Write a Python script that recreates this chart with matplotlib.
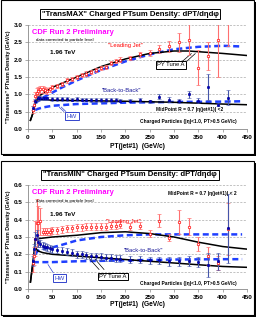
import numpy as np
import matplotlib
matplotlib.use("Agg")
import matplotlib.pyplot as plt
from matplotlib.patches import Rectangle

plt.rcParams['font.family'] = ['Liberation Sans', 'DejaVu Sans']

# ---------------- TransMAX data ----------------
max_lj_x = [10, 12, 15, 18, 20, 25, 30, 35, 40, 45, 50, 60, 70, 80, 90, 100, 110, 120, 130, 140,
            150, 160, 170, 180, 190, 210, 230, 250, 270, 290, 310, 330, 350, 370, 390, 410]
max_lj_y = [0.55, 0.7, 0.95, 1.05, 1.1, 1.15, 1.15, 1.12, 1.1, 1.15, 1.2, 1.25, 1.3, 1.4, 1.45, 1.5, 1.55, 1.6, 1.65, 1.7,
            1.75, 1.8, 1.9, 1.95, 2.0, 2.05, 2.15, 2.2, 2.3, 2.38, 2.5, 2.58, 1.77, 2.1, 2.57, 3.2]
max_lj_e = [0.1, 0.1, 0.12, 0.12, 0.12, 0.1, 0.1, 0.08, 0.08, 0.07, 0.06, 0.06, 0.06, 0.06, 0.06, 0.06, 0.06, 0.06, 0.06, 0.06,
            0.06, 0.06, 0.06, 0.06, 0.07, 0.07, 0.08, 0.08, 0.12, 0.16, 0.28, 0.45, 0.5, 0.4, 1.07, 0.8]

max_bb_x = [10, 15, 20, 25, 30, 35, 40, 50, 60, 70, 80, 90, 100, 110, 120, 130, 140, 150, 160, 170,
            180, 190, 210, 230, 250, 270, 290, 310, 330, 350, 370, 390, 410]
max_bb_y = [0.6, 0.8, 0.88, 0.9, 0.88, 0.88, 0.88, 0.87, 0.87, 0.87, 0.86, 0.85, 0.86, 0.85, 0.85, 0.84, 0.84, 0.84, 0.83, 0.83,
            0.83, 0.82, 0.82, 0.83, 0.8, 0.93, 0.85, 0.8, 1.0, 0.82, 1.22, 0.7, 0.9]
max_bb_e = [0.06, 0.06, 0.06, 0.05, 0.05, 0.05, 0.05, 0.05, 0.05, 0.05, 0.05, 0.05, 0.05, 0.05, 0.05, 0.05, 0.05, 0.05, 0.05, 0.05,
            0.05, 0.05, 0.05, 0.05, 0.05, 0.07, 0.07, 0.06, 0.1, 0.07, 0.37, 0.05, 0.22]

max_py_lj_x = [5, 10, 15, 20, 25, 30, 50, 100, 150, 200, 250, 300, 330, 350, 400, 450]
max_py_lj_y = [0.25, 0.45, 0.75, 0.9, 0.97, 1.02, 1.2, 1.5, 1.8, 2.02, 2.18, 2.25, 2.25, 2.23, 2.18, 2.12]
max_py_bb_x = [5, 10, 15, 20, 25, 50, 100, 200, 300, 400, 450]
max_py_bb_y = [0.25, 0.45, 0.75, 0.85, 0.85, 0.83, 0.82, 0.8, 0.77, 0.72, 0.7]

max_hw_lj_x = [15, 20, 30, 50, 70, 100, 150, 200, 250, 300, 350, 400, 440]
max_hw_lj_y = [0.75, 0.8, 0.9, 1.05, 1.2, 1.4, 1.7, 1.95, 2.15, 2.3, 2.37, 2.4, 2.38]
max_hw_bb_x = [15, 20, 30, 50, 60, 100, 150, 200, 300, 400, 440]
max_hw_bb_y = [0.55, 0.58, 0.62, 0.67, 0.68, 0.72, 0.74, 0.76, 0.78, 0.79, 0.8]

# ---------------- TransMIN data ----------------
min_lj_x = [10, 12, 15, 18, 20, 25, 30, 35, 40, 45, 50, 60, 70, 80, 90, 100, 110, 120, 130, 140,
            150, 160, 170, 180, 190, 210, 230, 250, 270, 290, 310, 330, 350, 370, 390, 410]
min_lj_y = [0.15, 0.19, 0.29, 0.38, 0.38, 0.39, 0.33, 0.33, 0.33, 0.33, 0.34, 0.34, 0.345, 0.35, 0.35, 0.355, 0.355, 0.36, 0.36, 0.36,
            0.36, 0.36, 0.365, 0.365, 0.37, 0.36, 0.365, 0.32, 0.395, 0.295, 0.385, 0.36, 0.26, 0.19, 0.15, 0.345]
min_lj_e = [0.05, 0.05, 0.1, 0.14, 0.1, 0.08, 0.02, 0.02, 0.02, 0.02, 0.02, 0.02, 0.02, 0.02, 0.02, 0.02, 0.02, 0.02, 0.02, 0.02,
            0.02, 0.02, 0.02, 0.02, 0.02, 0.02, 0.02, 0.02, 0.035, 0.02, 0.07, 0.05, 0.04, 0.05, 0.04, 0.15]

min_bb_x = [10, 12, 15, 18, 20, 25, 30, 35, 40, 45, 50, 60, 70, 80, 90, 100, 110, 120, 130, 140,
            150, 160, 170, 180, 190, 210, 230, 250, 270, 290, 310, 330, 350, 370, 390, 410]
min_bb_y = [0.16, 0.23, 0.29, 0.31, 0.27, 0.26, 0.25, 0.245, 0.24, 0.235, 0.23, 0.225, 0.22, 0.215, 0.21, 0.2, 0.2, 0.195, 0.19, 0.19,
            0.185, 0.18, 0.18, 0.175, 0.175, 0.17, 0.17, 0.165, 0.165, 0.16, 0.16, 0.16, 0.155, 0.14, 0.16, 0.35]
min_bb_e = [0.03, 0.03, 0.04, 0.03, 0.03, 0.02, 0.02, 0.02, 0.02, 0.02, 0.02, 0.02, 0.02, 0.02, 0.02, 0.02, 0.02, 0.02, 0.02, 0.02,
            0.02, 0.02, 0.02, 0.02, 0.02, 0.02, 0.02, 0.02, 0.02, 0.025, 0.025, 0.03, 0.03, 0.07, 0.05, 0.2]

min_py_lj_x = [5, 10, 15, 20, 50, 100, 150, 200, 250, 300, 350, 400, 450]
min_py_lj_y = [0.04, 0.15, 0.28, 0.29, 0.3, 0.31, 0.325, 0.33, 0.32, 0.3, 0.27, 0.245, 0.23]
min_py_bb_x = [5, 10, 15, 20, 30, 50, 100, 150, 200, 250, 300, 350, 400, 450]
min_py_bb_y = [0.04, 0.15, 0.24, 0.22, 0.21, 0.2, 0.19, 0.18, 0.17, 0.16, 0.15, 0.14, 0.13, 0.125]

min_hw_lj_x = [15, 20, 30, 50, 70, 100, 150, 200, 250, 300, 350, 400, 440]
min_hw_lj_y = [0.2, 0.22, 0.23, 0.24, 0.255, 0.28, 0.3, 0.31, 0.315, 0.315, 0.315, 0.315, 0.315]
min_hw_bb_x = [10, 50, 100, 200, 300, 400, 440]
min_hw_bb_y = [0.155, 0.155, 0.16, 0.165, 0.17, 0.172, 0.172]

xticks = [0, 50, 100, 150, 200, 250, 300, 350, 400, 450]

W, H = 258, 320
fig = plt.figure(figsize=(W / 100, H / 100), dpi=100)


def fx(px):
    return px / W


def fy(py):
    return 1 - py / H


def panel(top, bottom):
    # shadow then white frame
    fig.patches.append(Rectangle((fx(3), fy(bottom + 2)), fx(253), (bottom - top) / H,
                                 transform=fig.transFigure, facecolor="black", edgecolor="none", zorder=-3))
    fig.patches.append(Rectangle((fx(0.5), fy(bottom)), fx(253), (bottom - top) / H,
                                 transform=fig.transFigure, facecolor="white", edgecolor="black", lw=0.8, zorder=-2))


def boxed(x, y, s, color="black", edge="black", size=4.2, weight="normal"):
    bb = dict(boxstyle="square,pad=0.25", fc="white", ec=edge, lw=0.7)
    fig.text(fx(x), fy(y), s, ha="center", va="center", fontsize=size, color=color, weight=weight, bbox=bb, zorder=5)


def draw(ax, lj, bb, py_lj, py_bb, hw_lj, hw_bb, ymax, ystep):
    ax.patch.set_alpha(0)
    ax.set_xlim(0, 450)
    ax.set_ylim(0, ymax)
    ax.set_xticks(xticks)
    ax.set_yticks(np.arange(0, ymax + ystep / 2, ystep))
    ax.set_yticklabels([f"{v:.1f}" for v in np.arange(0, ymax + ystep / 2, ystep)])
    ax.grid(axis="y", color="#aaaaaa", ls=(0, (3, 2)), lw=0.5)
    ax.set_axisbelow(True)
    for s in ["top", "right"]:
        ax.spines[s].set_visible(False)
    for s in ["left", "bottom"]:
        ax.spines[s].set_color("#888888")
        ax.spines[s].set_linewidth(0.6)
    ax.tick_params(labelsize=4.6, length=2, width=0.5, color="#888888", pad=2)
    for t in ax.get_xticklabels() + ax.get_yticklabels():
        t.set_fontweight("bold")

    ax.plot(hw_lj[0], hw_lj[1], color="#1f3fff", lw=1.8, ls=(0, (2.4, 1.4)), zorder=3)
    ax.plot(hw_bb[0], hw_bb[1], color="#1f3fff", lw=1.8, ls=(0, (2.4, 1.4)), zorder=3)
    ax.plot(py_lj[0], py_lj[1], color="black", lw=1.1, zorder=4)
    ax.plot(py_bb[0], py_bb[1], color="black", lw=1.1, zorder=4)
    ax.errorbar(lj[0], lj[1], yerr=lj[2], fmt="o", ms=1.8, mfc="white", mec="red", mew=0.5,
                ecolor="#ff7070", elinewidth=0.8, capsize=1.5, capthick=0.6, zorder=5)
    ax.errorbar(bb[0], bb[1], yerr=bb[2], fmt="o", ms=1.8, mfc="#0000cc", mec="#000088", mew=0.4,
                ecolor="#4455aa", elinewidth=0.8, capsize=1.5, capthick=0.6, zorder=5)


# ---------- top panel ----------
panel(0, 154)
ax1 = fig.add_axes([fx(28), fy(129), fx(247) - fx(28), (129 - 25) / H])
draw(ax1, (max_lj_x, max_lj_y, max_lj_e), (max_bb_x, max_bb_y, max_bb_e),
     (max_py_lj_x, max_py_lj_y), (max_py_bb_x, max_py_bb_y),
     (max_hw_lj_x, max_hw_lj_y), (max_hw_bb_x, max_hw_bb_y), 3.0, 0.5)
boxed(130, 14, "\"TransMAX\" Charged PTsum Density: dPT/d\u03b7d\u03c6", size=5.6, weight="bold")
fig.text(fx(9), fy(77), "\"Transverse\" PTsum Density (GeV/c)", rotation=90, ha="center", va="center",
         fontsize=3.8, weight="bold")
fig.text(fx(137), fy(147), "PT(jet#1)  (GeV/c)", ha="center", va="center", fontsize=4.8, weight="bold")
fig.text(fx(32), fy(32), "CDF Run 2 Preliminary", color="#ff00ff", fontsize=5.4, weight="bold", va="center")
fig.text(fx(36), fy(39.5), "data corrected to particle level", fontsize=3.2, va="center")
fig.text(fx(50), fy(52), "1.96 TeV", fontsize=4.6, weight="bold", va="center")
fig.text(fx(125), fy(46), "\"Leading Jet\"", color="red", fontsize=4.2, ha="center", va="center")
fig.text(fx(121), fy(90), "\"Back-to-Back\"", color="#1a1a99", fontsize=4.2, ha="center", va="center")
fig.text(fx(190), fy(110), "MidPoint R = 0.7 |\u03b7(jet#1)| <2", fontsize=3.5, ha="center", va="center", weight="bold")
fig.text(fx(188), fy(122), "Charged Particles (|\u03b7|<1.0, PT>0.5 GeV/c)", fontsize=3.5, ha="center", va="center", weight="bold")
ax1.annotate("", xy=(340, 2.23), xytext=(313, 1.9), arrowprops=dict(arrowstyle="-", lw=0.5))
ax1.annotate("", xy=(348, 2.23), xytext=(322, 1.9), arrowprops=dict(arrowstyle="-", lw=0.5))
boxed(171, 65, "PY Tune A", size=4.2)
ax1.annotate("", xy=(60, 0.68), xytext=(78, 0.45), arrowprops=dict(arrowstyle="-", lw=0.5, color="#3344cc"))
ax1.annotate("", xy=(64, 0.69), xytext=(82, 0.45), arrowprops=dict(arrowstyle="-", lw=0.5, color="#3344cc"))
boxed(72, 116, "HW", color="#3344cc", edge="#3344cc", size=4.4)

# ---------- bottom panel ----------
panel(161, 315)
ax2 = fig.add_axes([fx(28), fy(289), fx(247) - fx(28), (289 - 185) / H])
draw(ax2, (min_lj_x, min_lj_y, min_lj_e), (min_bb_x, min_bb_y, min_bb_e),
     (min_py_lj_x, min_py_lj_y), (min_py_bb_x, min_py_bb_y),
     (min_hw_lj_x, min_hw_lj_y), (min_hw_bb_x, min_hw_bb_y), 0.6, 0.1)
boxed(130, 175, "\"TransMIN\" Charged PTsum Density: dPT/d\u03b7d\u03c6", size=5.6, weight="bold")
fig.text(fx(9), fy(237), "\"Transverse\" PTsum Density (GeV/c)", rotation=90, ha="center", va="center",
         fontsize=3.8, weight="bold")
fig.text(fx(137), fy(304), "PT(jet#1)  (GeV/c)", ha="center", va="center", fontsize=4.8, weight="bold")
fig.text(fx(32), fy(193), "CDF Run 2 Preliminary", color="#ff00ff", fontsize=5.4, weight="bold", va="center")
fig.text(fx(36), fy(201), "data corrected to particle level", fontsize=3.2, va="center")
fig.text(fx(50), fy(214), "1.96 TeV", fontsize=4.6, weight="bold", va="center")
fig.text(fx(123), fy(222), "\"Leading Jet\"", color="red", fontsize=4.2, ha="center", va="center")
fig.text(fx(143), fy(251), "\"Back-to-Back\"", color="#1a1a99", fontsize=4.2, ha="center", va="center")
fig.text(fx(202), fy(194), "MidPoint R = 0.7 |\u03b7(jet#1)| < 2", fontsize=3.5, ha="center", va="center", weight="bold")
fig.text(fx(188), fy(283), "Charged Particles (|\u03b7|<1.0, PT>0.5 GeV/c)", fontsize=3.5, ha="center", va="center", weight="bold")
ax2.annotate("", xy=(122, 0.188), xytext=(150, 0.1), arrowprops=dict(arrowstyle="-", lw=0.5))
ax2.annotate("", xy=(134, 0.185), xytext=(160, 0.1), arrowprops=dict(arrowstyle="-", lw=0.5))
boxed(113, 276.5, "PY Tune A", size=4.2)
ax2.annotate("", xy=(38, 0.155), xytext=(55, 0.08), arrowprops=dict(arrowstyle="-", lw=0.5, color="#3344cc"))
boxed(59.5, 278, "HW", color="#3344cc", edge="#3344cc", size=4.4)

fig.savefig("out.png", dpi=100)
